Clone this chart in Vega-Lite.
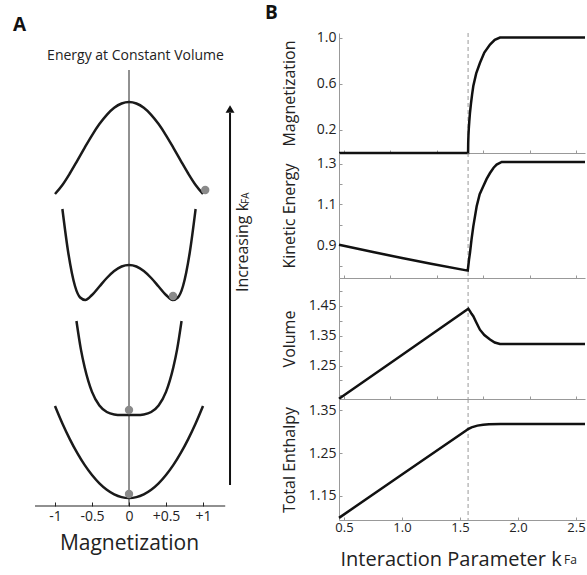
{
  "$schema": "https://vega.github.io/schema/vega-lite/v6.json",
  "padding": {"left": 0, "top": 4, "right": 0, "bottom": 0},
  "bounds": "flush",
  "spacing": 77,
  "config": {
    "view": {"stroke": null},
    "font": "Open Sans",
    "axis": {
      "grid": false,
      "labelFont": "Open Sans",
      "titleFont": "Open Sans",
      "titleFontWeight": "normal",
      "labelColor": "#222",
      "titleColor": "#222",
      "domainColor": "#999",
      "tickColor": "#999",
      "tickSize": -3,
      "labelFontSize": 14,
      "labelOverlap": false,
      "titleFontSize": 16
    }
  },
  "datasets": {
    "curves": [
      {"curve": 1, "m": -1.0, "e": 100}, {"curve": 1, "m": -0.9, "e": 82.5}, {"curve": 1, "m": -0.8, "e": 66.9}, {"curve": 1, "m": -0.7, "e": 53.1}, {"curve": 1, "m": -0.6, "e": 41.1}, {"curve": 1, "m": -0.5, "e": 31}, {"curve": 1, "m": -0.4, "e": 22.7}, {"curve": 1, "m": -0.3, "e": 16.3}, {"curve": 1, "m": -0.2, "e": 11.7}, {"curve": 1, "m": -0.1, "e": 8.9}, {"curve": 1, "m": 0, "e": 8}, {"curve": 1, "m": 0.1, "e": 8.9}, {"curve": 1, "m": 0.2, "e": 11.7}, {"curve": 1, "m": 0.3, "e": 16.3}, {"curve": 1, "m": 0.4, "e": 22.7}, {"curve": 1, "m": 0.5, "e": 31}, {"curve": 1, "m": 0.6, "e": 41.1}, {"curve": 1, "m": 0.7, "e": 53.1}, {"curve": 1, "m": 0.8, "e": 66.9}, {"curve": 1, "m": 0.9, "e": 82.5}, {"curve": 1, "m": 1.0, "e": 100},
      {"curve": 2, "m": -0.71, "e": 185}, {"curve": 2, "m": -0.65, "e": 156.6}, {"curve": 2, "m": -0.6, "e": 139}, {"curve": 2, "m": -0.5, "e": 114.1}, {"curve": 2, "m": -0.4, "e": 100.5}, {"curve": 2, "m": -0.3, "e": 94}, {"curve": 2, "m": -0.2, "e": 91.6}, {"curve": 2, "m": -0.1, "e": 91.05}, {"curve": 2, "m": 0, "e": 91}, {"curve": 2, "m": 0.1, "e": 91.05}, {"curve": 2, "m": 0.2, "e": 91.6}, {"curve": 2, "m": 0.3, "e": 94}, {"curve": 2, "m": 0.4, "e": 100.5}, {"curve": 2, "m": 0.5, "e": 114.1}, {"curve": 2, "m": 0.6, "e": 139}, {"curve": 2, "m": 0.65, "e": 156.6}, {"curve": 2, "m": 0.71, "e": 185},
      {"curve": 3, "m": -0.9, "e": 297}, {"curve": 3, "m": -0.82, "e": 253}, {"curve": 3, "m": -0.73, "e": 220}, {"curve": 3, "m": -0.66, "e": 208.5}, {"curve": 3, "m": -0.59, "e": 206}, {"curve": 3, "m": -0.5, "e": 211}, {"curve": 3, "m": -0.4, "e": 219.5}, {"curve": 3, "m": -0.3, "e": 228}, {"curve": 3, "m": -0.2, "e": 235}, {"curve": 3, "m": -0.1, "e": 239.5}, {"curve": 3, "m": 0, "e": 241}, {"curve": 3, "m": 0.1, "e": 239.5}, {"curve": 3, "m": 0.2, "e": 235}, {"curve": 3, "m": 0.3, "e": 228}, {"curve": 3, "m": 0.4, "e": 219.5}, {"curve": 3, "m": 0.5, "e": 211}, {"curve": 3, "m": 0.59, "e": 206}, {"curve": 3, "m": 0.66, "e": 208.5}, {"curve": 3, "m": 0.73, "e": 220}, {"curve": 3, "m": 0.82, "e": 253}, {"curve": 3, "m": 0.9, "e": 297},
      {"curve": 4, "m": -1.0, "e": 312}, {"curve": 4, "m": -0.9, "e": 321}, {"curve": 4, "m": -0.8, "e": 332.5}, {"curve": 4, "m": -0.7, "e": 345.2}, {"curve": 4, "m": -0.6, "e": 358.2}, {"curve": 4, "m": -0.5, "e": 370.7}, {"curve": 4, "m": -0.4, "e": 381.9}, {"curve": 4, "m": -0.3, "e": 391.2}, {"curve": 4, "m": -0.2, "e": 398.2}, {"curve": 4, "m": -0.1, "e": 402.5}, {"curve": 4, "m": 0, "e": 404}, {"curve": 4, "m": 0.1, "e": 402.5}, {"curve": 4, "m": 0.2, "e": 398.2}, {"curve": 4, "m": 0.3, "e": 391.2}, {"curve": 4, "m": 0.4, "e": 381.9}, {"curve": 4, "m": 0.5, "e": 370.7}, {"curve": 4, "m": 0.6, "e": 358.2}, {"curve": 4, "m": 0.7, "e": 345.2}, {"curve": 4, "m": 0.8, "e": 332.5}, {"curve": 4, "m": 0.9, "e": 321}, {"curve": 4, "m": 1.0, "e": 312}
    ],
    "balls": [
      {"m": 1.03, "e": 316}, {"m": 0.595, "e": 210}, {"m": 0, "e": 96}, {"m": 0, "e": 12}
    ],
    "mag": [
      {"x": 0.457, "y": 0}, {"x": 1.57, "y": 0}, {"x": 1.571, "y": 0.086}, {"x": 1.573, "y": 0.15}, {"x": 1.576, "y": 0.21}, {"x": 1.58, "y": 0.27}, {"x": 1.586, "y": 0.345}, {"x": 1.595, "y": 0.43}, {"x": 1.605, "y": 0.51}, {"x": 1.615, "y": 0.58}, {"x": 1.64, "y": 0.69}, {"x": 1.672, "y": 0.78}, {"x": 1.71, "y": 0.87}, {"x": 1.759, "y": 0.94}, {"x": 1.8, "y": 0.98}, {"x": 1.845, "y": 1.0}, {"x": 2.578, "y": 1.0}
    ],
    "ke": [
      {"x": 0.457, "y": 0.903}, {"x": 0.75, "y": 0.867}, {"x": 1.0, "y": 0.838}, {"x": 1.25, "y": 0.81}, {"x": 1.567, "y": 0.776}, {"x": 1.572, "y": 0.8}, {"x": 1.578, "y": 0.83}, {"x": 1.586, "y": 0.862}, {"x": 1.6, "y": 0.93}, {"x": 1.615, "y": 0.993}, {"x": 1.644, "y": 1.091}, {"x": 1.67, "y": 1.15}, {"x": 1.701, "y": 1.189}, {"x": 1.73, "y": 1.225}, {"x": 1.759, "y": 1.254}, {"x": 1.79, "y": 1.28}, {"x": 1.816, "y": 1.295}, {"x": 1.86, "y": 1.308}, {"x": 2.578, "y": 1.308}
    ],
    "vol": [
      {"x": 0.457, "y": 1.139}, {"x": 1.0, "y": 1.285}, {"x": 1.572, "y": 1.44}, {"x": 1.586, "y": 1.432}, {"x": 1.6, "y": 1.423}, {"x": 1.615, "y": 1.415}, {"x": 1.64, "y": 1.395}, {"x": 1.672, "y": 1.37}, {"x": 1.71, "y": 1.352}, {"x": 1.759, "y": 1.337}, {"x": 1.8, "y": 1.327}, {"x": 1.845, "y": 1.322}, {"x": 2.578, "y": 1.322}
    ],
    "enth": [
      {"x": 0.457, "y": 1.099}, {"x": 1.0, "y": 1.2}, {"x": 1.55, "y": 1.302}, {"x": 1.57, "y": 1.306}, {"x": 1.6, "y": 1.31}, {"x": 1.65, "y": 1.314}, {"x": 1.7, "y": 1.316}, {"x": 1.75, "y": 1.317}, {"x": 1.85, "y": 1.318}, {"x": 2.578, "y": 1.318}
    ],
    "crit": [{"x": 1.57}]
  },
  "hconcat": [
    {
      "width": 262,
      "height": 473,
      "layer": [
        {
          "data": {"name": "curves"},
          "mark": {"type": "line", "interpolate": "monotone", "color": "#1a1a1a", "strokeWidth": 2.5},
          "encoding": {
            "x": {"field": "m", "type": "quantitative", "scale": {"domain": [-1.743, 1.797], "nice": false, "zero": false},
              "axis": {"values": [-1, -0.5, 0, 0.5, 1], "labelExpr": "datum.value > 0 ? '+' + datum.value : '' + datum.value", "labelOverlap": false, "domain": false, "tickColor": "#222", "tickSize": -4, "labelFontSize": 14, "labelPadding": 7, "title": "Magnetization", "titleFontSize": 21, "titlePadding": 9, "titleX": 129}},
            "y": {"field": "e", "type": "quantitative", "scale": {"domain": [0, 473], "nice": false, "zero": false}, "axis": null},
            "detail": {"field": "curve"}
          }
        },
        {
          "data": {"values": [{"m1": -1.27, "m2": 1.3, "e": 0}]},
          "mark": {"type": "rule", "color": "#222", "strokeWidth": 1.2},
          "encoding": {"x": {"field": "m1", "type": "quantitative"}, "x2": {"field": "m2"}, "y": {"field": "e", "type": "quantitative"}}
        },
        {
          "data": {"values": [{"m": 0, "e1": 0, "e2": 436}]},
          "mark": {"type": "rule", "color": "#222", "strokeWidth": 1},
          "encoding": {"x": {"field": "m", "type": "quantitative"}, "y": {"field": "e1", "type": "quantitative"}, "y2": {"field": "e2"}}
        },
        {
          "data": {"values": [{"m": 1.365, "e1": 21, "e2": 393}]},
          "mark": {"type": "rule", "color": "#111", "strokeWidth": 2},
          "encoding": {"x": {"field": "m", "type": "quantitative"}, "y": {"field": "e1", "type": "quantitative"}, "y2": {"field": "e2"}}
        },
        {
          "data": {"values": [{"m": 1.365, "e": 397}]},
          "mark": {"type": "point", "shape": "triangle-up", "filled": true, "color": "#111", "size": 80, "opacity": 1},
          "encoding": {"x": {"field": "m", "type": "quantitative"}, "y": {"field": "e", "type": "quantitative"}}
        },
        {
          "data": {"name": "balls"},
          "mark": {"type": "point", "shape": "circle", "filled": true, "color": "#8a8a8a", "size": 70, "opacity": 1},
          "encoding": {"x": {"field": "m", "type": "quantitative"}, "y": {"field": "e", "type": "quantitative"}}
        },
        {
          "data": {"values": [{"m": -1.568, "e": 475, "label": "A"}]},
          "mark": {"type": "text", "fontSize": 19, "fontWeight": "bold", "align": "left", "baseline": "alphabetic", "color": "#111"},
          "encoding": {"x": {"field": "m", "type": "quantitative"}, "y": {"field": "e", "type": "quantitative"}, "text": {"field": "label"}}
        },
        {
          "data": {"values": [{"m": 0.088, "e": 446, "label": "Energy at Constant Volume"}]},
          "mark": {"type": "text", "fontSize": 14, "align": "center", "baseline": "alphabetic", "color": "#222"},
          "encoding": {"x": {"field": "m", "type": "quantitative"}, "y": {"field": "e", "type": "quantitative"}, "text": {"field": "label"}}
        },
        {
          "data": {"values": [{"m": 1.649, "e": 214, "label": "Increasing k"}]},
          "mark": {"type": "text", "fontSize": 16, "angle": 270, "align": "left", "baseline": "bottom", "color": "#222"},
          "encoding": {"x": {"field": "m", "type": "quantitative"}, "y": {"field": "e", "type": "quantitative"}, "text": {"field": "label"}}
        },
        {
          "data": {"values": [{"m": 1.649, "e": 302, "label": "FA"}]},
          "mark": {"type": "text", "fontSize": 10, "angle": 270, "align": "left", "baseline": "bottom", "color": "#222"},
          "encoding": {"x": {"field": "m", "type": "quantitative"}, "y": {"field": "e", "type": "quantitative"}, "text": {"field": "label"}}
        }
      ]
    },
    {
      "spacing": 0,
      "bounds": "flush",
      "vconcat": [
        {
          "width": 246,
          "height": 120,
          "layer": [
            {
              "data": {"name": "crit"},
              "mark": {"type": "rule", "color": "#999", "strokeDash": [4, 3], "strokeWidth": 1},
              "encoding": {"x": {"field": "x", "type": "quantitative"}}
            },
            {
              "data": {"name": "mag"},
              "mark": {"type": "line", "color": "#111", "strokeWidth": 2.5},
              "encoding": {
                "x": {"field": "x", "type": "quantitative", "scale": {"domain": [0.457, 2.578], "nice": false, "zero": false}, "axis": {"values": [0.5, 0.6, 0.7, 0.8, 0.9, 1, 1.1, 1.2, 1.3, 1.4, 1.5, 1.6, 1.7, 1.8, 1.9, 2, 2.1, 2.2, 2.3, 2.4, 2.5], "labels": false, "title": null}},
                "y": {"field": "y", "type": "quantitative", "scale": {"domain": [0, 1.04], "nice": false, "zero": false}, "axis": {"values": [0.2, 0.4, 0.6, 0.8, 1.0], "labelExpr": "indexof(['0.2','0.6','1.0'], format(datum.value, '.1f')) >= 0 ? format(datum.value, '.1f') : ''", "labelOverlap": false, "labelPadding": 6, "title": "Magnetization", "titleX": -42}}
              }
            },
            {
              "data": {"values": [{"x": -0.181, "y": 1.161, "label": "B"}]},
              "mark": {"type": "text", "fontSize": 19, "fontWeight": "bold", "align": "left", "baseline": "alphabetic", "color": "#111"},
              "encoding": {"x": {"field": "x", "type": "quantitative"}, "y": {"field": "y", "type": "quantitative"}, "text": {"field": "label"}}
            }
          ]
        },
        {
          "width": 246,
          "height": 125,
          "layer": [
            {
              "data": {"name": "crit"},
              "mark": {"type": "rule", "color": "#999", "strokeDash": [4, 3], "strokeWidth": 1},
              "encoding": {"x": {"field": "x", "type": "quantitative"}}
            },
            {
              "data": {"name": "ke"},
              "mark": {"type": "line", "color": "#111", "strokeWidth": 2.5},
              "encoding": {
                "x": {"field": "x", "type": "quantitative", "scale": {"domain": [0.457, 2.578], "nice": false, "zero": false}, "axis": {"values": [0.5, 0.6, 0.7, 0.8, 0.9, 1, 1.1, 1.2, 1.3, 1.4, 1.5, 1.6, 1.7, 1.8, 1.9, 2, 2.1, 2.2, 2.3, 2.4, 2.5], "labels": false, "title": null}},
                "y": {"field": "y", "type": "quantitative", "scale": {"domain": [0.74, 1.352], "nice": false, "zero": false}, "axis": {"values": [0.8, 0.9, 1.0, 1.1, 1.2, 1.3], "labelExpr": "indexof(['0.9','1.1','1.3'], format(datum.value, '.1f')) >= 0 ? format(datum.value, '.1f') : ''", "labelOverlap": false, "labelPadding": 6, "title": "Kinetic Energy", "titleX": -42}}
              }
            }
          ]
        },
        {
          "width": 246,
          "height": 121,
          "layer": [
            {
              "data": {"name": "crit"},
              "mark": {"type": "rule", "color": "#999", "strokeDash": [4, 3], "strokeWidth": 1},
              "encoding": {"x": {"field": "x", "type": "quantitative"}}
            },
            {
              "data": {"name": "vol"},
              "mark": {"type": "line", "color": "#111", "strokeWidth": 2.5},
              "encoding": {
                "x": {"field": "x", "type": "quantitative", "scale": {"domain": [0.457, 2.578], "nice": false, "zero": false}, "axis": {"values": [0.5, 0.6, 0.7, 0.8, 0.9, 1, 1.1, 1.2, 1.3, 1.4, 1.5, 1.6, 1.7, 1.8, 1.9, 2, 2.1, 2.2, 2.3, 2.4, 2.5], "labels": false, "title": null}},
                "y": {"field": "y", "type": "quantitative", "scale": {"domain": [1.138, 1.543], "nice": false, "zero": false}, "axis": {"values": [1.15, 1.2, 1.25, 1.3, 1.35, 1.4, 1.45, 1.5], "labelExpr": "indexof(['1.25','1.35','1.45'], format(datum.value, '.2f')) >= 0 ? format(datum.value, '.2f') : ''", "labelOverlap": false, "labelPadding": 6, "title": "Volume", "titleX": -42}}
              }
            }
          ]
        },
        {
          "width": 246,
          "height": 121,
          "layer": [
            {
              "data": {"name": "crit"},
              "mark": {"type": "rule", "color": "#999", "strokeDash": [4, 3], "strokeWidth": 1},
              "encoding": {"x": {"field": "x", "type": "quantitative"}}
            },
            {
              "data": {"name": "enth"},
              "mark": {"type": "line", "color": "#111", "strokeWidth": 2.5},
              "encoding": {
                "x": {"field": "x", "type": "quantitative", "scale": {"domain": [0.457, 2.578], "nice": false, "zero": false}, "axis": {"values": [0.5, 1, 1.5, 2, 2.5], "format": ".1f", "labelFlush": true, "labelFontSize": 13, "labelPadding": 4, "title": "Interaction Parameter k", "titleFontSize": 20, "titleAlign": "left", "titleX": 1, "titlePadding": 15}},
                "y": {"field": "y", "type": "quantitative", "scale": {"domain": [1.094, 1.376], "nice": false, "zero": false}, "axis": {"values": [1.15, 1.25, 1.35], "format": ".2f", "labelPadding": 6, "title": "Total Enthalpy", "titleX": -42}}
              }
            },
            {
              "data": {"values": [{"x": 2.397, "y": 0.992, "label": "Fa"}]},
              "mark": {"type": "text", "fontSize": 12, "align": "left", "baseline": "alphabetic", "color": "#222"},
              "encoding": {"x": {"field": "x", "type": "quantitative"}, "y": {"field": "y", "type": "quantitative"}, "text": {"field": "label"}}
            }
          ]
        }
      ]
    }
  ]
}
